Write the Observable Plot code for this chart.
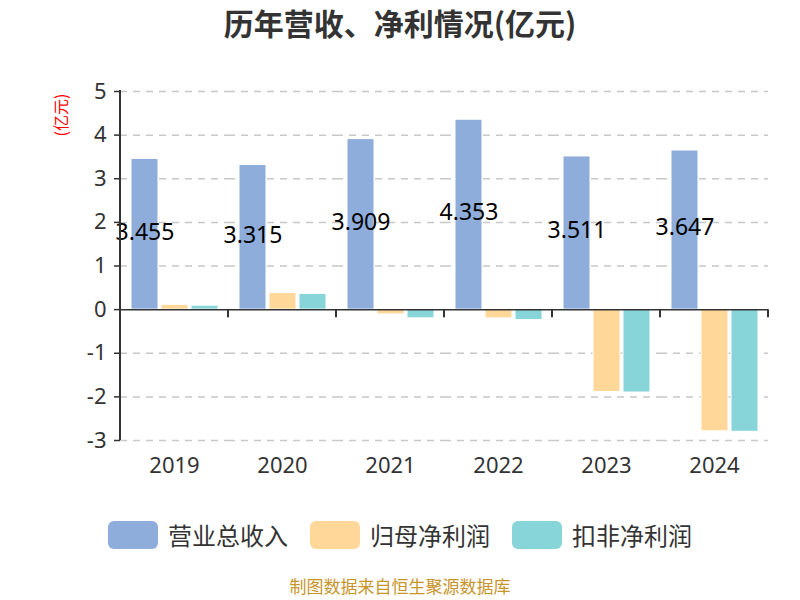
<!DOCTYPE html>
<html>
<head>
<meta charset="utf-8">
<script src="https://cdn.jsdelivr.net/npm/d3@7"></script>
<script src="https://cdn.jsdelivr.net/npm/@observablehq/plot@0.6"></script>
<style>
  html, body { margin: 0; padding: 0; background: #fff; }
  body { font-family: "Noto Sans CJK SC", "Noto Sans", sans-serif; }
  #wrap { position: relative; width: 800px; height: 600px; overflow: hidden; }
  #title { position: absolute; left: 0; top: 2px; width: 800px; text-align: center;
           font-size: 30px; font-weight: bold; color: #333; line-height: 40px; }
  #chart { position: absolute; left: 0; top: 50px; }
  #ylabel { position: absolute; left: 60px; top: 115px; transform: translate(-50%, -50%) rotate(-90deg);
            color: #ff0000; font-size: 16px; white-space: nowrap; }
  #legend { position: absolute; left: 0; top: 518px; width: 800px; display: flex; justify-content: center; gap: 22px; }
  .item { display: flex; align-items: center; gap: 10px; font-size: 24px; color: #333; line-height: 34px; }
  .sw { width: 50px; height: 28px; border-radius: 6px; }
  #caption { position: absolute; left: 0; top: 576px; width: 800px; text-align: center;
             font-size: 17px; color: #c8952a; line-height: 19px; }
</style>
</head>
<body>
<div id="wrap">
  <div id="title"></div>
  <div id="ylabel"></div>
  <div id="chart"></div>
  <div id="legend"></div>
  <div id="caption"></div>
</div>
<script>
const titleText = "历年营收、净利情况(亿元)";
const unitLabel = "(亿元)";
const captionText = "制图数据来自恒生聚源数据库";
const years = ["2019", "2020", "2021", "2022", "2023", "2024"];
const seriesNames = ["营业总收入", "归母净利润", "扣非净利润"];
const revenue = [3.455, 3.315, 3.909, 4.353, 3.511, 3.647];
const netProfit = [0.11, 0.38, -0.11, -0.20, -1.89, -2.79];
const deductedProfit = [0.09, 0.36, -0.20, -0.24, -1.90, -2.80];
const colors = ["#8EADDB", "#FFD899", "#87D5D8"];
const yTicks = [-3, -2, -1, 0, 1, 2, 3, 4, 5];

document.getElementById("title").textContent = titleText;
document.getElementById("ylabel").textContent = unitLabel;
document.getElementById("caption").textContent = captionText;

const seriesValues = [revenue, netProfit, deductedProfit];
const rows = years.flatMap((yr, i) => seriesNames.map((s, j) => ({year: yr, series: s, value: seriesValues[j][i]})));
const revenueRows = rows.filter(d => d.series === seriesNames[0]);

const plot = Plot.plot({
  width: 800,
  height: 450,
  marginTop: 41,
  marginBottom: 60,
  marginLeft: 120,
  marginRight: 32,
  style: {fontFamily: "'Noto Sans', 'Noto Sans CJK SC', sans-serif", color: "#333", background: "transparent"},
  facet: {marginLeft: 0, marginRight: 0},
  fx: {domain: years, padding: 0, label: null},
  x: {domain: seriesNames, paddingInner: 0.1, paddingOuter: 0.35, axis: null},
  y: {domain: [-3, 5], label: null},
  color: {domain: seriesNames, range: colors},
  marks: [
    Plot.gridY(yTicks.filter(t => t !== 0), {stroke: "#c8c8c8", strokeOpacity: 1, strokeWidth: 1.5, strokeDasharray: "7,6"}),
    Plot.barY(rows, {fx: "year", x: "series", y: "value", fill: "series", stroke: "#fff", strokeWidth: 1}),
    Plot.ruleY([0], {stroke: "#333", strokeWidth: 1.5}),
    Plot.text(revenueRows, {fx: "year", x: "series", y: d => d.value / 2, text: d => d.value.toFixed(3),
      fontSize: 23, fill: "#000", dy: -2}),
    Plot.axisY(yTicks, {tickSize: 6, tickPadding: 8, fontSize: 22, label: null, stroke: "#333", strokeWidth: 1.5,
      fill: "#333", tickFormat: d => String(d)}),
    Plot.axisFx({anchor: "bottom", tickSize: 0, tickPadding: 17, fontSize: 22, label: null, fill: "#333"})
  ]
});
document.getElementById("chart").appendChild(plot);

// axis line and boundary ticks drawn from the plot's own scales
const svg = d3.select(plot.tagName.toLowerCase() === "svg" ? plot : plot.querySelector("svg"));
const fxS = plot.scale("fx");
const yS = plot.scale("y");
const yMap = v => yS.apply ? yS.apply(v) : d3.scaleLinear(yS.domain, yS.range)(v);
const fxLeft = d => fxS.apply ? fxS.apply(d) : fxS.range[0] + years.indexOf(d) * fxS.step;
const x0 = fxLeft(years[0]);
const g = svg.append("g").attr("stroke", "#333");
g.append("line").attr("x1", x0).attr("x2", x0).attr("y1", yMap(yS.domain[1]) - 1).attr("y2", yMap(yS.domain[0]))
  .attr("stroke-width", 2);
years.forEach(yr => {
  const xr = fxLeft(yr) + fxS.bandwidth;
  g.append("line").attr("x1", xr).attr("x2", xr).attr("y1", yMap(0)).attr("y2", yMap(0) + 8).attr("stroke-width", 2);
});

const legend = document.getElementById("legend");
seriesNames.forEach((s, i) => {
  const item = document.createElement("div");
  item.className = "item";
  const sw = document.createElement("div");
  sw.className = "sw";
  sw.style.background = colors[i];
  const t = document.createElement("span");
  t.textContent = s;
  item.appendChild(sw);
  item.appendChild(t);
  legend.appendChild(item);
});
</script>
</body>
</html>
